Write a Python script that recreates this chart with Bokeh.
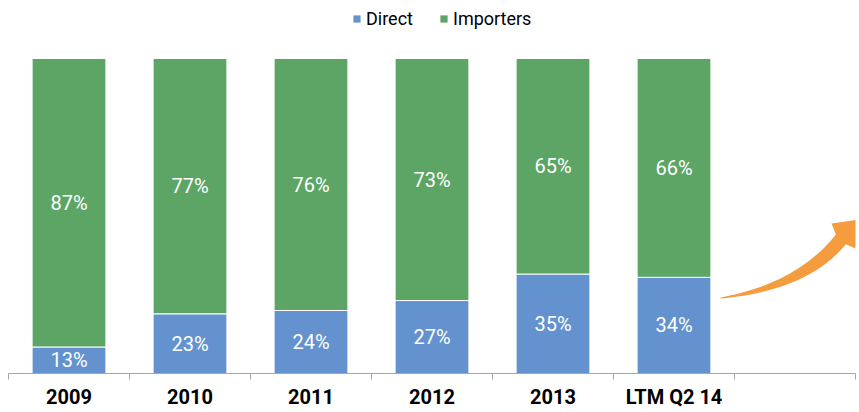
from bokeh.plotting import figure
from bokeh.models import ColumnDataSource, FixedTicker, Range1d, Legend, LegendItem
from bokeh.core.properties import value
from bokeh.embed import file_html
from bokeh.resources import INLINE

# ---- data ----
categories = ["2009", "2010", "2011", "2012", "2013", "LTM Q2 14"]
direct = [13, 23, 24, 27, 35, 34]
importers = [87, 77, 76, 73, 65, 66]

BLUE = "#6392CE"
GREEN = "#5CA565"
ORANGE = "#F59D3E"
AXIS = "#A6A6A6"

Y0 = 0.05          # value axis starts at 5%
Y1 = 1.1508        # room above for the legend
N_SLOTS = 7        # 6 bars plus an empty slot for the arrow

xs = [i + 0.5 for i in range(len(categories))]
d = [v / 100 for v in direct]
im = [v / 100 for v in importers]
src = ColumnDataSource(dict(
    x=xs, direct=d, importers=im,
    d_lab=[f"{v}%" for v in direct], i_lab=[f"{v}%" for v in importers],
    d_y=[(max(Y0, 0) + a) / 2 for a in d],
    i_y=[a + b / 2 for a, b in zip(d, im)],
))

p = figure(width=858, height=411, output_backend="svg", toolbar_location=None,
           x_range=Range1d(0, N_SLOTS), y_range=Range1d(Y0, Y1),
           y_axis_location=None, min_border_left=8, min_border_right=3,
           min_border_top=8, min_border_bottom=30)
p.outline_line_color = None
p.grid.visible = False
p.background_fill_color = "white"

p.vbar_stack(["direct", "importers"], x="x", width=0.61, source=src,
             color=[BLUE, GREEN], line_color="white", line_width=1)

font = value("Roboto")
p.text(x="x", y="d_y", text="d_lab", source=src, text_color="white",
       text_font=font, text_font_size="20px", text_align="center",
       text_baseline="middle")
p.text(x="x", y="i_y", text="i_lab", source=src, text_color="white",
       text_font=font, text_font_size="20px", text_align="center",
       text_baseline="middle")

# ---- axis ----
ax = p.xaxis[0]
ax.ticker = FixedTicker(ticks=xs, minor_ticks=list(range(N_SLOTS + 1)))
ax.major_label_overrides = {x: c for x, c in zip(xs, categories)}
ax.axis_line_color = AXIS
ax.major_tick_out = 0
ax.major_tick_in = 0
ax.minor_tick_out = 6
ax.minor_tick_in = 0
ax.minor_tick_line_color = AXIS
ax.major_label_standoff = 5
ax.major_label_text_font = "Roboto"
ax.major_label_text_font_style = "bold"
ax.major_label_text_font_size = "20px"
ax.major_label_text_color = "black"

# ---- arrow (decoration, defined in pixels of the frame) ----
FRAME_W, FRAME_H = 847, 365
def px2x(px):
    return px / FRAME_W * N_SLOTS
def py2y(py):
    return Y1 - py / FRAME_H * (Y1 - Y0)

def qbez(p0, c, p2, n=30):
    pts = []
    for k in range(n + 1):
        t = k / n
        pts.append(((1 - t) ** 2 * p0[0] + 2 * (1 - t) * t * c[0] + t * t * p2[0],
                    (1 - t) ** 2 * p0[1] + 2 * (1 - t) * t * c[1] + t * t * p2[1]))
    return pts

upper = qbez((712, 289), (792, 274), (830, 222.5))
lower = qbez((712, 290), (802, 282), (840, 232.5))
head = [(823, 215), (851, 211), (847, 240)]
outline = upper[:-1] + [head[0], head[1], head[2]] + lower[::-1][1:]
p.patch([px2x(a) for a, b in outline], [py2y(b) for a, b in outline],
        color=ORANGE, line_width=0)

# ---- legend (swatch renderers placed outside the visible range) ----
r_d = p.vbar(x=[-10], top=[0], width=0.5, color=BLUE, line_color=None)
r_i = p.vbar(x=[-10], top=[0], width=0.5, color=GREEN, line_color=None)
legend = Legend(items=[LegendItem(label="Direct", renderers=[r_d]),
                       LegendItem(label="Importers", renderers=[r_i])],
                orientation="horizontal", location=(344, 344),
                glyph_width=9, glyph_height=9, label_standoff=5, spacing=26,
                padding=0, margin=0, border_line_color=None,
                background_fill_alpha=0,
                label_text_font="Roboto", label_text_font_size="18px",
                label_text_color="black")
p.add_layout(legend)

open("out.html", "w").write(file_html(p, INLINE))
